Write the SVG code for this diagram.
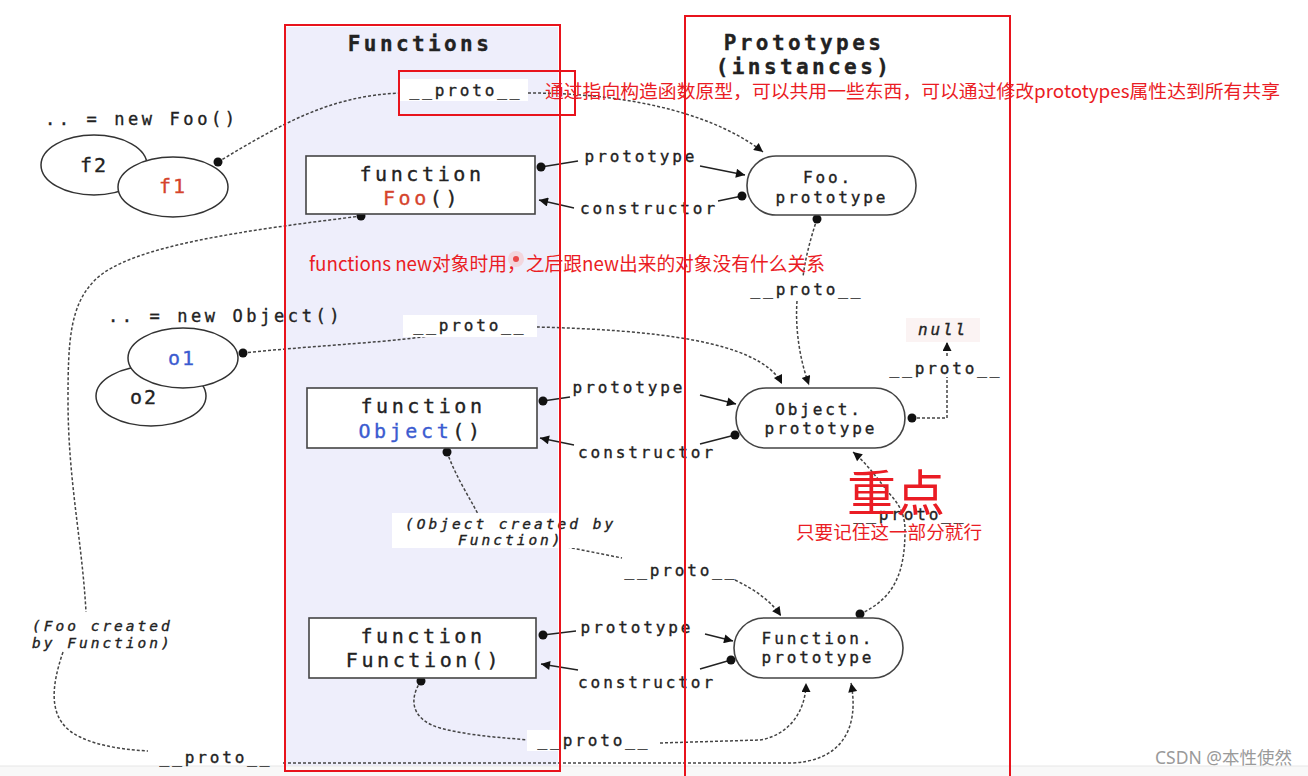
<svg xmlns="http://www.w3.org/2000/svg" width="1308" height="776" viewBox="0 0 1308 776">
<defs>
<marker id="arr" viewBox="0 0 10 10" refX="10" refY="5" markerWidth="13" markerHeight="9" orient="auto" markerUnits="userSpaceOnUse"><path d="M0,0 L10,5 L0,10 z" fill="#111"/></marker>
<style>
.mono{font-family:"DejaVu Sans Mono","Liberation Mono",monospace;fill:#222;stroke:#222;stroke-width:0.35}
.lbl{font-size:16px;letter-spacing:2.9px;text-anchor:middle}
.head{font-size:21px;font-weight:bold;letter-spacing:3.4px;text-anchor:middle}
.fn{font-size:20px;letter-spacing:3.6px;text-anchor:middle}
.it{font-style:italic;font-size:14.5px;letter-spacing:3px}
.box{fill:#fff;stroke:#444;stroke-width:1.6}
.ell{fill:#fff;stroke:#333;stroke-width:1.5}
.solid{fill:none;stroke:#222;stroke-width:1.4}
.dash{fill:none;stroke:#444;stroke-width:1.5;stroke-dasharray:3 2}
.dot{fill:#111}
.bg{fill:#fff}
.red{fill:#ea1c24;font-family:"Noto Sans CJK SC","Microsoft YaHei",sans-serif}
.frame{fill:none;stroke:#e8131c;stroke-width:2}
</style>
</defs>
<rect x="0" y="0" width="1308" height="776" fill="#fff"/>
<rect x="286" y="27" width="272" height="740" fill="#eeeefb"/>
<rect x="0" y="766" width="1308" height="10" fill="#f8f8f8"/>
<line x1="0" y1="766" x2="1308" y2="766" stroke="#e6e6e6" stroke-width="1"/>

<g id="headers">
<text class="mono head" x="420" y="51">Functions</text>
<text class="mono head" x="804" y="50">Prototypes</text>
<text class="mono head" x="804" y="74">(instances)</text>
</g>

<g id="connectors">
<path class="dash" d="M218,162 C280,125 330,95 402,93 L528,93 C640,93 720,118 763,152" marker-end="url(#arr)"/>
<circle class="dot" cx="218" cy="162" r="4.5"/>
<path class="solid" d="M541,167 L578,161"/>
<circle class="dot" cx="541" cy="167" r="4.5"/>
<path class="solid" d="M700,166 L745,175" marker-end="url(#arr)"/>
<path class="solid" d="M742,196 L718,201"/>
<circle class="dot" cx="742" cy="196" r="4.5"/>
<path class="solid" d="M574,208 L539,200" marker-end="url(#arr)"/>
<path class="dash" d="M361,216 C250,230 130,245 95,280 C70,305 68,340 68,400 C68,480 82,540 86,612"/>
<circle class="dot" cx="361" cy="216" r="4.5"/>
<path class="dash" d="M63,652 C50,690 48,722 80,737 C100,747 130,750 148,751"/>
<path class="dash" d="M283,763 L790,763 C840,762 860,730 851,683" marker-end="url(#arr)"/>
<path class="dash" d="M243,353 C320,345 400,342 440,334 L537,327 C650,330 760,340 782,384" marker-end="url(#arr)"/>
<circle class="dot" cx="243" cy="353" r="4.5"/>
<path class="dash" d="M817,219 C810,240 805,260 803,277"/>
<circle class="dot" cx="817" cy="219" r="4.5"/>
<path class="dash" d="M797,301 C795,330 800,360 809,385" marker-end="url(#arr)"/>
<path class="dash" d="M912,418 L947,418 L947,377"/>
<circle class="dot" cx="912" cy="418" r="4.5"/>
<path class="dash" d="M947,356 L947,342" marker-end="url(#arr)"/>
<path class="solid" d="M543,401 L570,397"/>
<circle class="dot" cx="543" cy="401" r="4.5"/>
<path class="solid" d="M700,395 L736,404" marker-end="url(#arr)"/>
<path class="solid" d="M735,435 L700,444"/>
<circle class="dot" cx="735" cy="435" r="4.5"/>
<path class="solid" d="M574,445 L540,438" marker-end="url(#arr)"/>
<path class="dash" d="M447,452 C455,475 468,495 478,514"/>
<circle class="dot" cx="447" cy="452" r="4.5"/>
<path class="dash" d="M562,546 L622,558"/>
<path class="dash" d="M735,580 C755,590 770,600 781,616" marker-end="url(#arr)"/>
<path class="dash" d="M860,614 C895,598 905,572 905,530 C905,510 895,500 888,492 C875,475 865,462 853,452" marker-end="url(#arr)"/>
<circle class="dot" cx="860" cy="614" r="4.5"/>
<path class="solid" d="M543,635 L576,631"/>
<circle class="dot" cx="543" cy="635" r="4.5"/>
<path class="solid" d="M705,634 L733,641" marker-end="url(#arr)"/>
<path class="solid" d="M731,660 L700,669"/>
<circle class="dot" cx="731" cy="660" r="4.5"/>
<path class="solid" d="M578,670 L541,664" marker-end="url(#arr)"/>
<path class="dash" d="M421,681 C408,700 412,720 440,728 C470,736 505,738 530,740"/>
<circle class="dot" cx="421" cy="681" r="4.5"/>
<path class="dash" d="M660,743 L760,740 C790,735 806,710 806,683" marker-end="url(#arr)"/>
</g>

<g id="labels">
<rect class="bg" x="400" y="79" width="128" height="22"/>
<text class="mono lbl" x="466" y="96">__proto__</text>
<text class="mono lbl" x="641" y="162">prototype</text>
<text class="mono lbl" x="649" y="214">constructor</text>
<text class="mono lbl" x="807" y="295">__proto__</text>
<rect class="bg" x="403" y="315" width="134" height="22"/>
<text class="mono lbl" x="470" y="331">__proto__</text>
<rect x="906" y="318" width="74" height="24" fill="#fbf3f3"/>
<text class="mono lbl" x="943" y="335" style="font-style:italic">null</text>
<text class="mono lbl" x="946" y="374">__proto__</text>
<text class="mono lbl" x="629" y="393">prototype</text>
<text class="mono lbl" x="647" y="458">constructor</text>
<text class="mono lbl" x="910" y="520">__proto__</text>
<rect class="bg" x="392" y="513" width="183" height="35"/>
<text class="mono it" x="405" y="529">(Object created by</text>
<text class="mono it" x="458" y="545">Function)</text>
<text class="mono lbl" x="681" y="576">__proto__</text>
<text class="mono lbl" x="637" y="633">prototype</text>
<text class="mono lbl" x="647" y="688">constructor</text>
<rect class="bg" x="527" y="730" width="125" height="21"/>
<text class="mono lbl" x="594" y="746">__proto__</text>
<text class="mono it" x="32" y="631">(Foo created</text>
<text class="mono it" x="32" y="648">by Function)</text>
<text class="mono lbl" x="216" y="763">__proto__</text>
</g>

<g id="instances-foo">
<text class="mono" x="45" y="125" style="font-size:17px;letter-spacing:3.6px">.. = new Foo()</text>
<ellipse class="ell" cx="94" cy="165" rx="53" ry="30"/>
<text class="mono" x="94" y="172" style="font-size:20px;letter-spacing:2px;text-anchor:middle">f2</text>
<ellipse class="ell" cx="173" cy="187" rx="55" ry="30"/>
<text class="mono" x="173" y="193" style="font-size:20px;letter-spacing:2px;text-anchor:middle;fill:#d5432c;stroke:#d5432c">f1</text>
</g>

<g id="instances-object">
<text class="mono" x="108" y="322" style="font-size:17px;letter-spacing:3.6px">.. = new Object()</text>
<ellipse class="ell" cx="151" cy="396" rx="55" ry="30"/>
<text class="mono" x="144" y="404" style="font-size:20px;letter-spacing:2px;text-anchor:middle">o2</text>
<ellipse class="ell" cx="183" cy="358" rx="55" ry="30"/>
<text class="mono" x="182" y="365" style="font-size:20px;letter-spacing:2px;text-anchor:middle;fill:#3b5bd0;stroke:#3b5bd0">o1</text>
</g>

<g id="func-foo">
<rect class="box" x="306" y="156" width="229" height="58"/>
<text class="mono fn" x="422" y="181">function</text>
<text class="mono fn" x="422" y="205"><tspan fill="#d5432c" stroke="#d5432c">Foo</tspan>()</text>
</g>
<g id="func-object">
<rect class="box" x="307" y="388" width="230" height="60"/>
<text class="mono fn" x="423" y="413">function</text>
<text class="mono fn" x="421" y="438"><tspan fill="#3b5bd0" stroke="#3b5bd0">Object</tspan>()</text>
</g>
<g id="func-function">
<rect class="box" x="309" y="618" width="227" height="60"/>
<text class="mono fn" x="423" y="643">function</text>
<text class="mono fn" x="424" y="667">Function()</text>
</g>

<g id="proto-foo">
<rect class="box" x="747" y="156" width="169" height="59" rx="29"/>
<text class="mono lbl" x="828" y="183">Foo.</text>
<text class="mono lbl" x="832" y="203">prototype</text>
</g>
<g id="proto-object">
<rect class="box" x="736" y="388" width="169" height="60" rx="30"/>
<text class="mono lbl" x="819" y="415">Object.</text>
<text class="mono lbl" x="821" y="434">prototype</text>
</g>
<g id="proto-function">
<rect class="box" x="734" y="618" width="169" height="60" rx="30"/>
<text class="mono lbl" x="818" y="644">Function.</text>
<text class="mono lbl" x="818" y="663">prototype</text>
</g>

<g id="annotations">
<rect class="frame" x="285" y="25" width="275" height="746"/>
<rect class="frame" x="685" y="16" width="325" height="762"/>
<rect class="frame" x="399" y="71" width="176" height="44"/>
<text class="red" x="545" y="98" style="font-size:18.5px" textLength="735" lengthAdjust="spacingAndGlyphs">通过指向构造函数原型，可以共用一些东西，可以通过修改prototypes属性达到所有共享</text>
<text class="red" x="309" y="271" style="font-size:19px" textLength="516" lengthAdjust="spacingAndGlyphs">functions new对象时用，之后跟new出来的对象没有什么关系</text>
<circle cx="516" cy="259" r="8" fill="#f7b8b8" opacity="0.45"/>
<circle cx="516" cy="259" r="3" fill="#ea4a4a"/>
<text class="red" x="847" y="511" style="font-size:49px" textLength="98" lengthAdjust="spacingAndGlyphs">重点</text>
<text class="red" x="796" y="539" style="font-size:18.5px" textLength="186" lengthAdjust="spacingAndGlyphs">只要记住这一部分就行</text>
<text x="1155" y="764" style="font-family:'Noto Sans','Noto Sans CJK SC',sans-serif;font-size:17.5px;fill:#9a9a9a">CSDN @本性使然</text>
</g>
</svg>
